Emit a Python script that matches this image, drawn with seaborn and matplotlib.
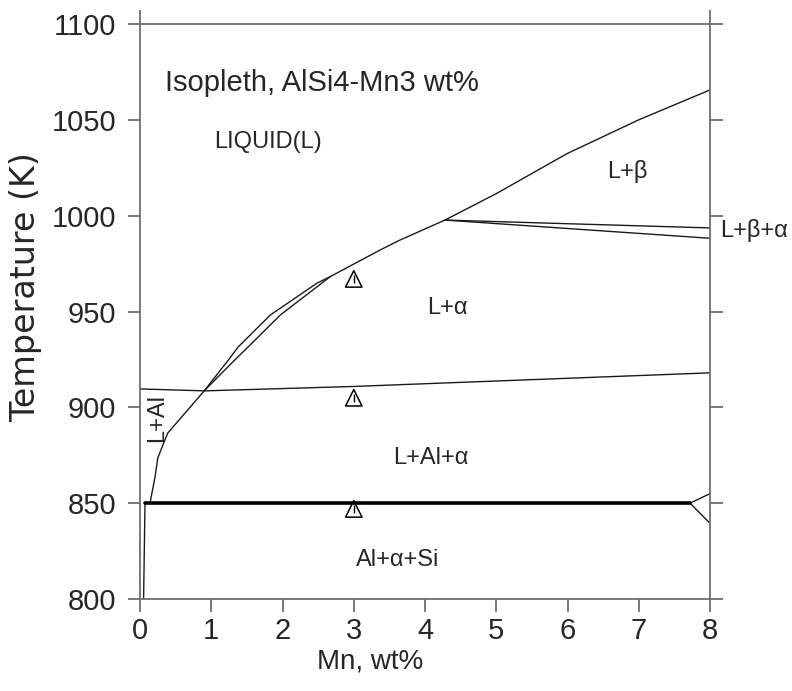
import numpy as np
import matplotlib
matplotlib.use('Agg')
import matplotlib.pyplot as plt
import seaborn as sns

# Isopleth AlSi4-Mn3 wt% : phase boundaries
# L / L+Al liquidus (lower left)
mn_liq_al = [0.14, 0.21, 0.25, 0.32, 0.39, 0.91]
t_liq_al = [850.0, 863.6, 873.6, 880.3, 886.6, 909.0]

# two close boundaries rising from ~0.9 wt% Mn until they merge
mn_upper = [0.91, 1.24, 1.38, 1.83, 2.48, 2.67]
t_upper = [909.0, 924.7, 931.6, 948.2, 964.7, 968.2]
mn_lower = [0.91, 1.33, 1.52, 1.97, 2.67]
t_lower = [909.0, 924.7, 931.6, 948.2, 968.2]

# L / L+alpha liquidus after merging
mn_liq_a = [2.67, 3.37, 3.65, 4.28]
t_liq_a = [968.2, 982.1, 987.3, 997.7]

# L / L+beta liquidus
mn_liq_b = [4.28, 5.0, 6.0, 7.0, 8.0]
t_liq_b = [997.7, 1011.5, 1032.5, 1050.0, 1065.6]

# L+beta+alpha region boundaries
mn_lba_top = [4.28, 8.0]
t_lba_top = [997.7, 993.6]
mn_lba_bot = [4.28, 8.0]
t_lba_bot = [997.7, 988.2]

# L+alpha / L+Al+alpha boundary
mn_la = [0.0, 0.91, 3.0, 8.0]
t_la = [909.6, 908.6, 910.9, 918.0]

# eutectic line and its end wedge
mn_eut = [0.07, 7.72]
t_eut = [850.0, 850.0]
mn_wedge = [8.0, 7.72, 8.0]
t_wedge = [855.0, 850.0, 839.5]

# near-vertical line at low Mn
mn_solv = [0.07, 0.05]
t_solv = [850.0, 800.0]

# experimental points (triangles)
mn_exp = [3.0, 3.0, 3.0]
t_exp = [967.0, 905.0, 847.0]

# region labels: (text, x, y)
lab_text = ['LIQUID(L)', 'L+\u03b2', 'L+\u03b2+\u03b1', 'L+\u03b1', 'L+Al+\u03b1', 'Al+\u03b1+Si']
lab_x = [1.79, 6.84, 8.62, 4.32, 4.08, 3.62]
lab_y = [1038.6, 1022.8, 992.5, 951.8, 873.6, 820.3]

x_ticks = [0, 1, 2, 3, 4, 5, 6, 7, 8]
y_ticks = [800, 850, 900, 950, 1000, 1050, 1100]

sns.set_style('ticks')
plt.rcParams['font.family'] = ['Liberation Sans', 'DejaVu Sans']

spine_col = '#6e6e6e'
line_col = '#1a1a1a'

fig = plt.figure(figsize=(7.92, 6.91), dpi=100)
ax = fig.add_axes([0.1768, 0.1331, 0.7197, 0.8322])

for xs, ys in [(mn_liq_al, t_liq_al), (mn_upper, t_upper), (mn_lower, t_lower),
               (mn_liq_a, t_liq_a), (mn_liq_b, t_liq_b), (mn_lba_top, t_lba_top),
               (mn_lba_bot, t_lba_bot), (mn_la, t_la), (mn_wedge, t_wedge),
               (mn_solv, t_solv)]:
    sns.lineplot(x=xs, y=ys, sort=False, estimator=None, color=line_col, lw=1.0, ax=ax)

sns.lineplot(x=mn_eut, y=t_eut, sort=False, estimator=None, color='black', lw=2.6, ax=ax)

# triangles with a small bar inside
sns.scatterplot(x=mn_exp, y=t_exp, marker='^', s=140, ax=ax, zorder=5)
tri = ax.collections[-1]
tri.set_facecolor('none')
tri.set_edgecolor('black')
tri.set_linewidth(1.1)
sns.scatterplot(x=mn_exp, y=t_exp, marker='|', s=30, ax=ax, zorder=5, color='black', linewidth=1.0)

for t, x, y in zip(lab_text, lab_x, lab_y):
    ax.text(x, y, t, ha='center', va='center', fontsize=17, clip_on=False)
ax.text(0.24, 894.4, 'L+Al', rotation=90, ha='center', va='center', fontsize=17)
ax.text(0.35, 1069.2, 'Isopleth, AlSi4-Mn3 wt%', ha='left', va='center', fontsize=21)

ax.set_xlim(0, 8)
ax.set_ylim(800, 1100)
ax.set_xticks(x_ticks)
ax.set_yticks(y_ticks)
ax.set_xlabel('Mn, wt%', fontsize=20)
ax.set_ylabel('Temperature (K)', fontsize=24, family=['DejaVu Sans'])
ax.xaxis.set_label_coords(0.404, -0.086)
ax.yaxis.set_label_coords(-0.172, 0.543)

for s in ax.spines.values():
    s.set_color(spine_col)
    s.set_linewidth(1.3)
ax.tick_params(axis='both', direction='out', length=9, width=1.3, color=spine_col,
               labelsize=21)
ax.tick_params(axis='x', pad=4)
ax.tick_params(axis='y', right=True, pad=8)
top = ax.secondary_xaxis('top')
top.set_xticks([0, 8])
top.set_xticklabels([])
top.tick_params(direction='out', length=10, width=1.3, color=spine_col)
top.spines['top'].set_visible(False)

fig.savefig('out.png', dpi=100)
